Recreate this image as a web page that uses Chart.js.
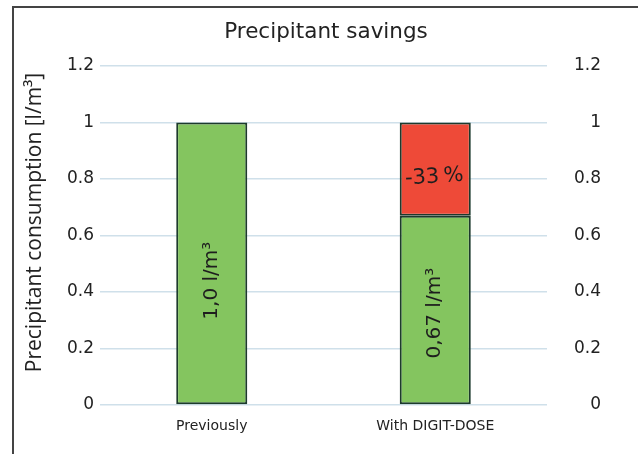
<!DOCTYPE html>
<html>
<head>
<meta charset="utf-8">
<script src="https://cdn.jsdelivr.net/npm/chart.js@4"></script>
<style>
  html, body { margin: 0; padding: 0; background: #fff; }
  #wrap { position: relative; width: 638px; height: 454px; }
</style>
</head>
<body>
<div id="wrap"><canvas id="chart" width="638" height="454"></canvas></div>
<script>
// chart data
const categories = ['Previously', 'With DIGIT-DOSE'];
const consumption = [1.0, 0.67];   // green part
const savings = [0, 0.33];         // red part on top
const barLabels = ['1,0 l/m\u00B3', '0,67 l/m\u00B3'];
const savingLabel = '-33\u2009%';
const yTicks = [0, 0.2, 0.4, 0.6, 0.8, 1, 1.2];
const chartTitle = 'Precipitant savings';
const yTitle = 'Precipitant consumption [l/m\u00B3]';

const FONT = 'DejaVu Sans';

// frame, chart title and axis title (drawn by hand so they sit where the original has them)
const framePlugin = {
  id: 'frame',
  beforeDraw(chart) {
    const ctx = chart.ctx;
    const area = chart.chartArea;
    ctx.save();
    ctx.strokeStyle = '#444';
    ctx.lineWidth = 2;
    ctx.strokeRect(13, 7, 700, 600);

    ctx.fillStyle = '#222';
    ctx.textAlign = 'center';
    ctx.textBaseline = 'middle';
    ctx.font = '21.5px "' + FONT + '"';
    ctx.fillText(chartTitle, 326, 32);

    ctx.font = '21px "Open Sans"';
    ctx.translate(35, (area.top + area.bottom) / 2 - 13);
    ctx.rotate(-Math.PI / 2);
    ctx.fillText(yTitle, 0, 0);
    ctx.restore();
  }
};

// rotated value labels inside the bars
const labelPlugin = {
  id: 'barText',
  afterDatasetsDraw(chart) {
    const ctx = chart.ctx;
    const y = chart.scales.y;
    const green = chart.getDatasetMeta(0).data;
    const red = chart.getDatasetMeta(1).data;
    const anchor = [0.44, 0.325]; // where the label sits, in axis units

    ctx.save();
    ctx.fillStyle = '#1e1e1e';
    ctx.textAlign = 'center';
    ctx.textBaseline = 'middle';
    ctx.font = '20px "' + FONT + '"';
    green.forEach((bar, i) => {
      ctx.save();
      ctx.translate(bar.x, y.getPixelForValue(anchor[i]));
      ctx.rotate(-Math.PI / 2);
      ctx.fillText(barLabels[i], 0, 0);
      ctx.restore();
    });

    // saving label in the red part
    const r = red[1];
    ctx.save();
    ctx.translate(r.x - 1, (r.y + r.base) / 2 + 8);
    ctx.rotate(-0.07);
    ctx.font = '21px "' + FONT + '"';
    ctx.fillText(savingLabel, 0, 0);
    ctx.restore();
    ctx.restore();
  }
};

const tickCallback = v => (yTicks.includes(Math.round(v * 10) / 10) ? String(Math.round(v * 10) / 10) : '');

new Chart(document.getElementById('chart'), {
  type: 'bar',
  data: {
    labels: categories,
    datasets: [
      {
        label: 'Consumption',
        data: consumption,
        backgroundColor: '#84c55f',
        borderColor: '#1d3a2c',
        borderWidth: 2,
        borderSkipped: false,
        barPercentage: 0.318,
        categoryPercentage: 1
      },
      {
        label: 'Saving',
        data: savings,
        backgroundColor: '#ee4a38',
        borderColor: '#1d3a2c',
        borderWidth: 2,
        borderSkipped: false,
        barPercentage: 0.318,
        categoryPercentage: 1
      }
    ]
  },
  options: {
    responsive: false,
    animation: false,
    layout: { padding: { top: 66, right: 37, bottom: 0, left: 0 } },
    plugins: {
      legend: { display: false },
      tooltip: { enabled: false },
      title: { display: false }
    },
    scales: {
      x: {
        stacked: true,
        grid: { display: false },
        border: { display: false },
        ticks: { color: '#222', font: { family: FONT, size: 14 }, padding: 5 },
        afterFit(scale) { scale.height = 49; }
      },
      y: {
        stacked: true,
        position: 'left',
        min: 0,
        max: 1.2,
        ticks: {
          stepSize: 0.2,
          color: '#222',
          font: { family: FONT, size: 17 },
          padding: 6,
          callback: tickCallback
        },
        grid: { color: '#cfe0ea', lineWidth: 1.5, drawTicks: false },
        border: { display: false },
        afterFit(scale) { scale.width = 100; }
      },
      y2: {
        position: 'right',
        min: 0,
        max: 1.2,
        ticks: {
          stepSize: 0.2,
          color: '#222',
          font: { family: FONT, size: 17 },
          padding: 6,
          crossAlign: 'far',
          callback: tickCallback
        },
        grid: { display: false, drawTicks: false },
        border: { display: false },
        afterFit(scale) { scale.width = 54; }
      }
    }
  },
  plugins: [framePlugin, labelPlugin]
});
</script>
</body>
</html>
